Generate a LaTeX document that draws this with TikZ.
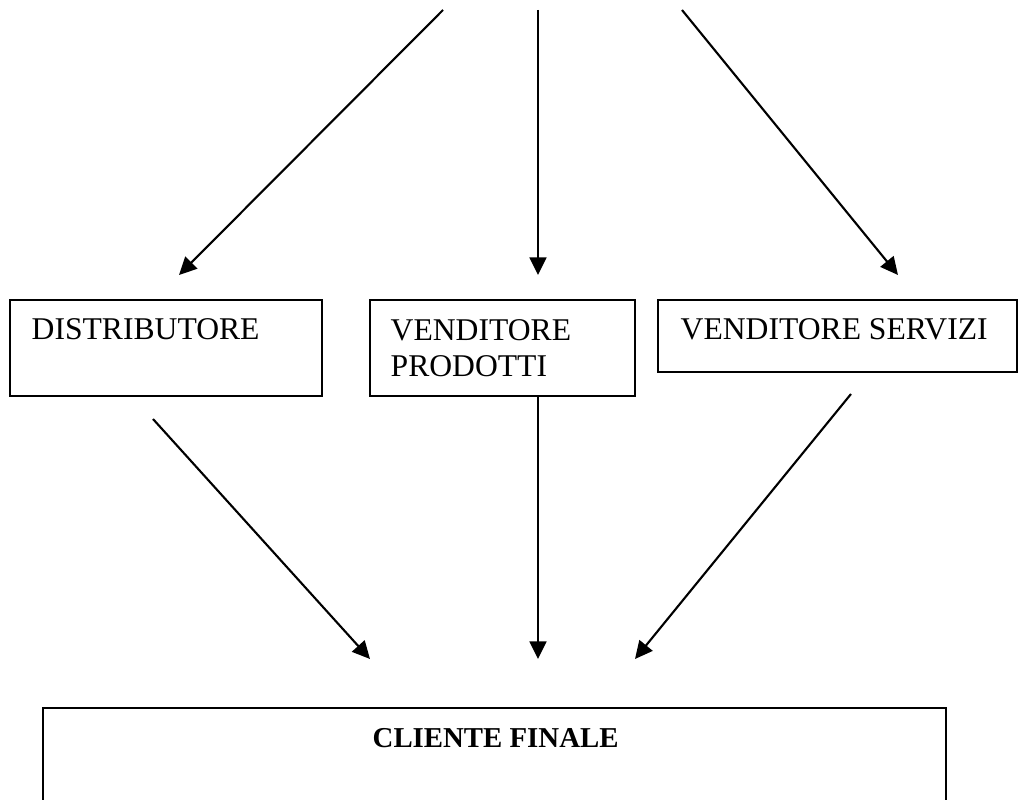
\documentclass[tikz,border=0pt]{standalone}
\usepackage{fontspec}
\setmainfont{Liberation Serif}
\usetikzlibrary{arrows.meta}

\begin{document}
\begin{tikzpicture}[
  every node/.style={font=\fontsize{9}{10.5}\selectfont, inner sep=0pt, anchor=base west, align=left},
  box/.style={draw=black, line width=0.6pt},
  flow/.style={line width=0.6pt, -{Triangle[length=5pt,width=4.8pt]}}
]
\useasboundingbox (0,0) rectangle (10.18,-8);
\clip (0,0) rectangle (10.18,-8);
% boxes of the middle row and the final client
\draw [box] (0.10,-3.00) rectangle (3.22,-3.96);
\draw [box] (3.70,-3.00) rectangle (6.35,-3.96);
\draw [box] (6.58,-3.00) rectangle (10.17,-3.72);
\draw [box] (0.43,-8.50) -- (0.43,-7.08) -- (9.46,-7.08) -- (9.46,-8.50);
\node (dist) at (0.31,-3.40) {DISTRIBUTORE};
\node (prod) at (3.90,-3.77) {VENDITORE\\PRODOTTI};
\node (serv) at (6.80,-3.40) {VENDITORE SERVIZI};
\node [font=\fontsize{8.2}{10}\selectfont\bfseries] (cliente) at (3.72,-7.48) {CLIENTE FINALE};
% free ends of the connectors
\coordinate (top1) at (4.43,-0.10);
\coordinate (top2) at (5.38,-0.10);
\coordinate (top3) at (6.82,-0.10);
\coordinate (in1) at (1.79,-2.75);
\coordinate (in2) at (5.38,-2.75);
\coordinate (in3) at (8.98,-2.75);
\coordinate (out1) at (1.53,-4.19);
\coordinate (out2) at (5.38,-3.96);
\coordinate (out3) at (8.51,-3.94);
\coordinate (cl1) at (3.70,-6.59);
\coordinate (cl2) at (5.38,-6.59);
\coordinate (cl3) at (6.35,-6.59);
\draw [flow] (top1) -- (in1);
\draw [flow] (top2) -- (in2);
\draw [flow] (top3) -- (in3);
\draw [flow] (out1) -- (cl1);
\draw [flow] (out2) -- (cl2);
\draw [flow] (out3) -- (cl3);
\end{tikzpicture}
\end{document}
